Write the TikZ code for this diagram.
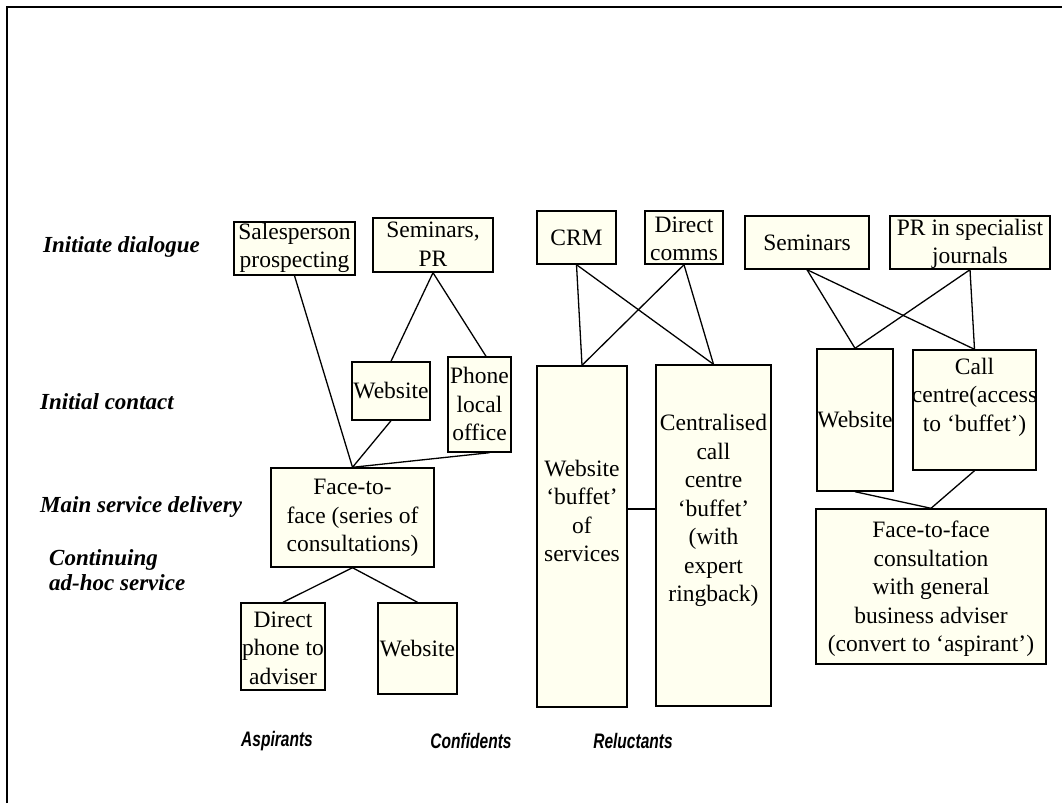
\documentclass[tikz,border=0pt]{standalone}
\usepackage{fontspec}
\setmainfont{Liberation Serif}
\newfontfamily\colfont{Liberation Sans}
\usepackage{graphicx}
\usetikzlibrary{calc,fit}
\definecolor{boxfill}{HTML}{FFFFF0}
\begin{document}
\begin{tikzpicture}[x=1pt,y=-1pt,
  box/.style={draw=black, line width=1.4pt, fill=boxfill, inner sep=0pt},
  txt/.style={align=center, font=\fontsize{23.5}{28.5}\selectfont, inner sep=0pt},
  rowlab/.style={anchor=west, align=left, font=\fontsize{23}{25}\selectfont\bfseries\itshape, inner sep=0pt},
  collab/.style={font=\fontsize{21}{22}\selectfont\colfont\bfseries\itshape, inner sep=0pt},
  link/.style={draw=black, line width=1.3pt}]
\useasboundingbox (0,0) rectangle (1062,803);
\fill[white] (0,0) rectangle (1062,803);
\draw[line width=2pt] (7,803) -- (7,7) -- (1062,7);

% row labels
\node[rowlab] (r1) at (43,247) {Initiate dialogue};
\node[rowlab] (r2) at (40,402) {Initial contact};
\node[rowlab] (r3) at (40,507) {Main service delivery};
\node[rowlab] (r4) at (49,570) {Continuing\\ad-hoc service};

% column labels
\node[collab] (c1) at (277,741) {\scalebox{0.74}[1]{Aspirants}};
\node[collab] (c2) at (471,741) {\scalebox{0.74}[1]{Confidents}};
\node[collab] (c3) at (633,741) {\scalebox{0.74}[1]{Reluctants}};

% Aspirants boxes
\node[box, fit={(234,222) (355,275)}] (sp) {};
\node[box, fit={(373,218) (493,272)}] (spr) {};
\node[box, fit={(352,362) (430,420)}] (web1) {};
\node[box, fit={(448,357) (511,452)}] (phone) {};
\node[box, fit={(271,468) (434,567)}] (f2f) {};
\node[box, fit={(241,603) (325,690)}] (dp) {};
\node[box, fit={(378,603) (457,694)}] (web2) {};

% Confidents boxes
\node[box, fit={(537,211) (616,264)}] (crm) {};
\node[box, fit={(645,211) (723,264)}] (dc) {};
\node[box, fit={(537,366) (627,707)}] (wb) {};
\node[box, fit={(656,365) (771,706)}] (cc) {};

% Reluctants boxes
\node[box, fit={(745,216) (869,269)}] (sem) {};
\node[box, fit={(890,216) (1050,269)}] (pr) {};
\node[box, fit={(817,349) (893,491)}] (web3) {};
\node[box, fit={(913,350) (1036,470)}] (call) {};
\node[box, fit={(816,509) (1046,664)}] (f2f2) {};

% texts
\node[txt] (sp-t) at (294.5,248) {Salesperson\\prospecting};
\node[txt] (spr-t) at (433,244) {Seminars,\\PR};
\node[txt] (web1-t) at (391,391) {Website};
\node[txt] (phone-t) at (479.5,404) {Phone\\local\\office};
\node[txt] (f2f-t) at (352.5,518) {Face-to-\\face (series of\\consultations)};
\node[txt] (dp-t) at (283,648) {Direct\\phone to\\adviser};
\node[txt] (web2-t) at (417.5,649) {Website};
\node[txt] (crm-t) at (576.5,238) {CRM};
\node[txt] (dc-t) at (684,239) {Direct\\comms};
\node[txt] (wb-t) at (582,511) {Website\\`buffet'\\of\\services};
\node[txt] (cc-t) at (713.5,510.5) {Centralised\\call\\centre\\`buffet'\\(with\\expert\\ringback)};
\node[txt] (sem-t) at (807,243) {Seminars};
\node[txt] (pr-t) at (970,244) {PR in specialist\\journals};
\node[txt] (web3-t) at (855,420) {Website};
\node[txt] (call-t) at (974.5,397) {Call\\centre(access\\to `buffet')};
\node[txt] (f2f2-t) at (931,589) {Face-to-face\\consultation\\with general\\business adviser\\(convert to `aspirant')};

% connectors - Aspirants
\draw[link] (sp.south) -- (f2f.north);
\draw[link] (spr.south) -- (web1.north);
\draw[link] (spr.south) -- ([xshift=6.5pt]phone.north);
\draw[link] (web1.south) -- (f2f.north);
\draw[link] ([xshift=10pt]phone.south) -- (f2f.north);
\draw[link] (f2f.south) -- (dp.north);
\draw[link] (f2f.south) -- (web2.north);

% connectors - Confidents
\coordinate (mid) at (0,509);
\draw[link] (crm.south) -- (wb.north);
\draw[link] (crm.south) -- (cc.north);
\draw[link] (dc.south) -- (wb.north);
\draw[link] (dc.south) -- (cc.north);
\draw[link] (wb.east |- mid) -- (cc.west |- mid);

% connectors - Reluctants
\draw[link] (sem.south) -- (web3.north);
\draw[link] (sem.south) -- (call.north);
\draw[link] (pr.south) -- (web3.north);
\draw[link] (pr.south) -- (call.north);
\draw[link] (web3.south) -- (f2f2.north);
\draw[link] (call.south) -- (f2f2.north);
\end{tikzpicture}
\end{document}
